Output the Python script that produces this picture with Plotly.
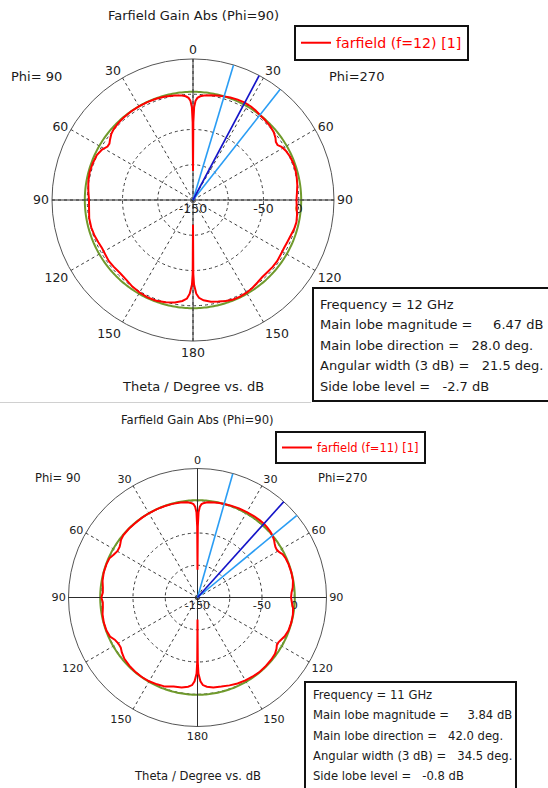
import numpy as np
import plotly.graph_objects as go

W, H = 548, 788
FONT = "DejaVu Sans"

# radial scale (dB) and angular ticks shared by both cuts
R_MIN, R_MAX = -150, 50
R_TICKS = [-150, -100, -50, 0]
R_TEXT = ["-150", "", "-50", "0"]
ANG_TICKS = [0, 30, 60, 90, 120, 150, 180, 210, 240, 270, 300, 330]
ANG_TEXT = ["0", "30", "60", "90", "120", "150", "180", "150", "120", "90", "60", "30"]

# ---------------- f = 12 GHz ----------------
f12_name = "farfield (f=12) [1]"
f12_freq = 12
f12_main_mag = 6.47
f12_main_dir = 28.0
f12_width = 21.5
f12_width_start = 16.7
f12_sll = -2.7
# Phi=270 half (theta 0..180, drawn clockwise on the right)
f12_theta_270 = [0, 0.25, 0.7, 1.5, 2.5, 4, 6, 10, 14, 16.7, 20, 24, 28, 32, 35, 38.2, 42, 46, 50, 53,
                 55, 57, 59, 62, 66, 70, 74, 78, 82, 86, 90, 94, 98, 102, 106, 110, 114, 118, 122,
                 126, 130, 134, 138, 142, 146, 150, 154, 158, 162, 166, 170, 174, 176.5, 178, 179.3,
                 179.75, 180]
f12_gain_270 = [-109, -40, -18, -9, -5, -2.5, -1, 0.8, 2.3, 3.47, 4.8, 5.9, 6.47, 6.0, 5.0, 3.47, 2.6,
                1.6, -0.5, -3.5, -6.5, -7, -3.5, -1, 0.8, 1.6, 1.4, 0.5, -0.6, -2.2, -3.2, -2.5, -1,
                0, -0.8, -2.5, -3.5, -4, -3.5, -2.5, -2.5, -3, -3, -1.5, 0.5, 1.8, 2.5, 2.2, 0.5,
                -1.5, -3.5, -7, -11, -17, -30, -45, -115]
# Phi=90 half (theta 0..180, drawn counter-clockwise on the left)
f12_theta_90 = [0, 0.25, 0.7, 1.5, 2.5, 4, 6, 10, 15, 20, 25, 30, 35, 40, 44, 48, 51, 54, 56, 58, 61,
                65, 70, 75, 80, 85, 90, 95, 100, 105, 110, 114, 118, 122, 126, 130, 135, 140, 145,
                150, 155, 160, 165, 170, 174, 176.5, 178, 179.3, 179.75, 180]
f12_gain_90 = [-109, -40, -18, -9, -5, -2.5, -1, 0.5, 2, 2.8, 3.2, 3.3, 3.2, 2.8, 2.2, 1.0, -1, -4.5,
               -7, -7, -2.5, 0.5, 1.5, 1.8, 0.8, -1, -2.5, -2, -0.5, -0.5, -1.5, -3, -4, -3.5, -2.5,
               -3, -3.5, -2.5, 0, 1.5, 2.5, 2, 0, -2.5, -6, -10, -17, -30, -45, -115]

# ---------------- f = 11 GHz ----------------
f11_name = "farfield (f=11) [1]"
f11_freq = 11
f11_main_mag = 3.84
f11_main_dir = 42.0
f11_width = 34.5
f11_width_start = 15.9
f11_sll = -0.8
f11_theta_270 = [0, 0.25, 0.7, 1.5, 2.5, 4, 6, 10, 13, 15.9, 20, 25, 30, 35, 39, 42, 45, 48, 50.4, 53,
                 55, 57, 59, 61, 63, 66, 70, 75, 80, 84, 87, 90, 93, 96, 100, 105, 110, 114, 117, 119,
                 121, 123, 126, 130, 135, 140, 145, 150, 155, 160, 165, 170, 174, 176.5, 178, 179.3,
                 179.75, 180]
f11_gain_270 = [-107, -40, -18, -9, -5, -3, -1.5, -0.5, 0.2, 0.84, 1.6, 2.4, 3.0, 3.5, 3.8, 3.84, 3.3,
                2.2, 0.84, -1.5, -4, -6, -6.5, -5, -2, -0.5, 0.3, 0.6, 0.3, -1.5, -4, -5, -3.5, -1,
                0.2, 0.5, 0.0, -2, -5, -6.5, -6.5, -4, -1.5, -0.5, 0, 0.2, -0.5, -1.5, -3, -5, -7,
                -8.5, -11, -14, -20, -32, -50, -116]
f11_theta_90 = [0, 0.25, 0.7, 1.5, 2.5, 4, 6, 10, 15, 20, 25, 30, 35, 40, 45, 50, 53, 55, 57, 60, 63,
                66, 70, 75, 80, 84, 87, 90, 93, 96, 100, 105, 110, 114, 117, 120, 123, 126, 130, 135,
                140, 145, 150, 155, 160, 165, 170, 174, 176.5, 178, 179.3, 179.75, 180]
f11_gain_90 = [-107, -40, -18, -9, -5, -3, -1.5, -0.5, 0.3, 0.6, 0.8, 0.8, 0.7, 0.5, 0.6, 0.2, -1.5,
               -4, -6, -6.5, -4, -0.5, 0.3, 0.5, -0.5, -2.5, -3, -1, -3, -2.5, -0.5, 0.4, 0.2, -1.5,
               -6, -8, -8, -5, -2, -0.5, 0.3, 0.5, 0, -1.5, -3, -7, -8.5, -11, -14, -20, -32, -50,
               -116]

RED = "#ff0000"
GREEN = "#6f9a2c"
LIGHT_BLUE = "#2a9df4"
DARK_BLUE = "#1414c8"
GRID = "#3c3c3c"


def full_cut(theta_270, gain_270, theta_90, gain_90):
    """Join both half cuts into one closed 0..360 trace (Phi=90 side mirrored)."""
    th = list(theta_270) + [360 - t for t in reversed(theta_90)]
    g = list(gain_270) + list(reversed(gain_90))
    return th, g


def px_domain(cx, cy, r):
    return dict(x=[(cx - r) / W, (cx + r) / W], y=[1 - (cy + r) / H, 1 - (cy - r) / H])


def base_polar(dom, fs):
    return dict(
        domain=dom,
        bgcolor="white",
        angularaxis=dict(rotation=90, direction="clockwise", tickmode="array",
                         tickvals=ANG_TICKS, ticktext=ANG_TEXT, showgrid=True,
                         gridcolor=GRID, griddash="3px,3px", gridwidth=1,
                         showline=True, linecolor="#555", linewidth=1, ticks="",
                         tickfont=dict(family=FONT, size=fs, color="#222")),
        radialaxis=dict(range=[R_MIN, R_MAX], tickmode="array", tickvals=R_TICKS,
                        ticktext=R_TEXT, angle=0, side="clockwise", showline=False,
                        ticks="", showgrid=True, gridcolor=GRID, griddash="3px,3px",
                        gridwidth=1, tickfont=dict(family=FONT, size=fs, color="#222")),
    )


def cross_polar(dom):
    return dict(
        domain=dom,
        bgcolor="rgba(0,0,0,0)",
        angularaxis=dict(rotation=90, direction="clockwise", tickmode="array",
                         tickvals=[0, 90, 180, 270], showticklabels=False, showgrid=True,
                         gridcolor="#2c2c2c", gridwidth=1.3, showline=False, ticks=""),
        radialaxis=dict(range=[R_MIN, R_MAX], showgrid=False, showticklabels=False,
                        showline=False, ticks=""),
    )


def add_cut(fig, base, over, legend, name, th, g, mag, direction, w_start, width):
    # -3 dB ring below the main lobe peak
    ring = np.linspace(0, 360, 361)
    fig.add_trace(go.Scatterpolar(r=np.full(ring.size, mag - 3.0), theta=ring, mode="lines",
                                  line=dict(color=GREEN, width=2), showlegend=False,
                                  subplot=base, hoverinfo="skip"))
    fig.add_trace(go.Scatterpolar(r=g, theta=th, mode="lines", name=name,
                                  line=dict(color=RED, width=2), subplot=over,
                                  legend=legend, showlegend=True))
    for ang, col in [(w_start, LIGHT_BLUE), (w_start + width, LIGHT_BLUE), (direction, DARK_BLUE)]:
        fig.add_trace(go.Scatterpolar(r=[R_MIN, R_MAX], theta=[ang, ang], mode="lines",
                                      line=dict(color=col, width=1.6), showlegend=False,
                                      subplot=over, hoverinfo="skip"))


fig = go.Figure()

th12, g12 = full_cut(f12_theta_270, f12_gain_270, f12_theta_90, f12_gain_90)
th11, g11 = full_cut(f11_theta_270, f11_gain_270, f11_theta_90, f11_gain_90)

add_cut(fig, "polar", "polar2", "legend", f12_name, th12, g12, f12_main_mag, f12_main_dir,
        f12_width_start, f12_width)
add_cut(fig, "polar3", "polar4", "legend2", f11_name, th11, g11, f11_main_mag, f11_main_dir,
        f11_width_start, f11_width)

top_dom = px_domain(193, 200, 141)
bot_dom = px_domain(197.5, 597.5, 129)

annotations = []


def text(x, y, s, size, color="#1a1a1a", anchor="center"):
    annotations.append(dict(x=x / W, y=1 - y / H, xref="paper", yref="paper", text=s,
                            showarrow=False, xanchor=anchor, yanchor="middle",
                            font=dict(family=FONT, size=size, color=color)))


NB = "\u00a0"


def info_lines(freq, mag, direction, width, sll):
    return [f"Frequency = {freq} GHz",
            f"Main lobe magnitude ={NB * 5}{mag:.2f} dB",
            f"Main lobe direction ={NB * 3}{direction:.1f} deg.",
            f"Angular width (3 dB) ={NB * 3}{width:.1f} deg.",
            f"Side lobe level ={NB * 3}{sll:.1f} dB"]


# top panel texts
text(193, 16, "Farfield Gain Abs (Phi=90)", 13)
text(9, 77, "Phi= 90", 13, anchor="left")
text(327, 77, "Phi=270", 13, anchor="left")
text(193, 386, "Theta / Degree vs. dB", 13)
for i, s in enumerate(info_lines(f12_freq, f12_main_mag, f12_main_dir, f12_width, f12_sll)):
    text(318, 304 + 20.5 * i, s, 13, anchor="left")

# bottom panel texts
text(197, 420, "Farfield Gain Abs (Phi=90)", 11.6)
text(33, 478, "Phi= 90", 11.6, anchor="left")
text(316, 478, "Phi=270", 11.6, anchor="left")
text(197, 776, "Theta / Degree vs. dB", 11.6)
for i, s in enumerate(info_lines(f11_freq, f11_main_mag, f11_main_dir, f11_width, f11_sll)):
    text(310.5, 695 + 20.3 * i, s, 11.6, anchor="left")

shapes = [
    dict(type="rect", xref="paper", yref="paper", x0=313 / W, x1=600 / W,
         y0=1 - 401 / H, y1=1 - 288 / H, line=dict(color="#111", width=2)),
    dict(type="rect", xref="paper", yref="paper", x0=305 / W, x1=516 / W,
         y0=1 - 800 / H, y1=1 - 682 / H, line=dict(color="#111", width=2)),
    dict(type="line", xref="paper", yref="paper", x0=0, x1=311 / W,
         y0=1 - 402.5 / H, y1=1 - 402.5 / H, line=dict(color="#d0d0d0", width=1)),
]

fig.update_layout(
    width=W, height=H, margin=dict(l=0, r=0, t=0, b=0),
    paper_bgcolor="white",
    polar=base_polar(top_dom, 12.5),
    polar2=cross_polar(top_dom),
    polar3=base_polar(bot_dom, 11.2),
    polar4=cross_polar(bot_dom),
    legend=dict(x=294 / W, y=1 - 25 / H, xanchor="left", yanchor="top",
                bordercolor="#111", borderwidth=2, bgcolor="white",
                font=dict(family=FONT, size=14.2, color=RED)),
    legend2=dict(x=275 / W, y=1 - 431 / H, xanchor="left", yanchor="top",
                 bordercolor="#111", borderwidth=2, bgcolor="white",
                 font=dict(family=FONT, size=11.5, color=RED)),
    annotations=annotations,
    shapes=shapes,
    showlegend=True,
)

fig.write_html("out.html")
